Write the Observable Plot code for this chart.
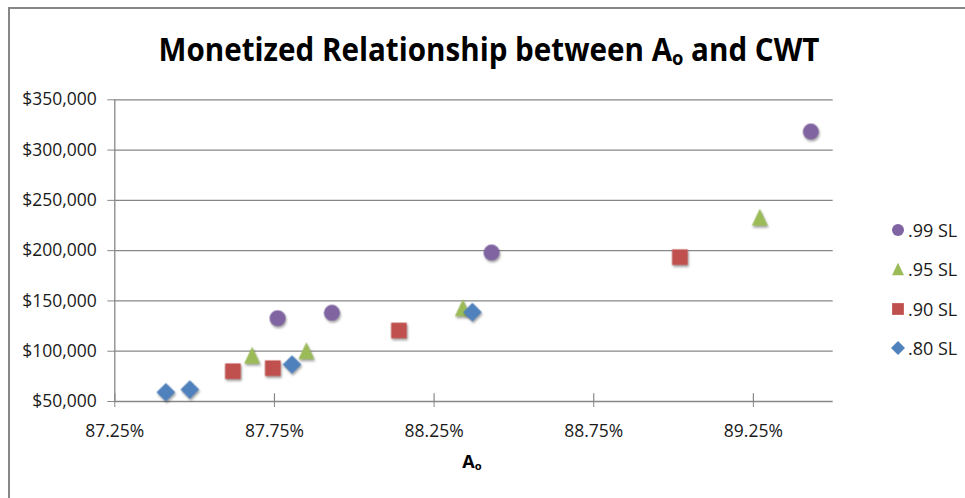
<!DOCTYPE html>
<html>
<head>
<meta charset="utf-8">
<script src="https://cdn.jsdelivr.net/npm/d3@7"></script>
<script src="https://cdn.jsdelivr.net/npm/@observablehq/plot@0.6"></script>
<style>
  html, body { margin: 0; padding: 0; background: #fff; }
  body { width: 965px; height: 498px; position: relative; overflow: hidden; font-family: "Open Sans", sans-serif; }
  #frame { position: absolute; left: 8px; top: 7px; width: 1000px; height: 600px; border-left: 2px solid #878787; border-top: 2px solid #878787; }
  #title { position: absolute; top: 29px; left: 488.7px; white-space: nowrap; font-weight: 700; font-size: 32.8px; line-height: 40px; color: #000; transform-origin: center; }
  #chart { position: absolute; left: 0; top: 80px; }
  #xlabel { position: absolute; top: 451px; left: 472px; transform: translateX(-50%); font-weight: 700; font-size: 18px; line-height: 20px; color: #000; white-space: nowrap; }
  .sub { font-size: 62%; vertical-align: -0.22em; }
  #legend { position: absolute; left: 890px; top: 210.5px; }
  .row { height: 39.3px; display: flex; align-items: center; font-size: 18px; color: #1a1a1a; }
  .row svg { width: 16px; height: 16px; margin-right: 2px; overflow: visible; }
</style>
</head>
<body>
<div id="frame"></div>
<div id="title">Monetized Relationship between A<span class="sub">o</span> and CWT</div>
<div id="chart"></div>
<div id="xlabel">A<span class="sub">o</span></div>
<div id="legend"></div>
<script>
// ---- data ----
const series = [".99 SL", ".95 SL", ".90 SL", ".80 SL"];
const seriesColors = ["#8064A2", "#9BBB59", "#C0504D", "#4F81BD"];
const ao99 = [87.76, 87.93, 88.43, 89.43];
const cwt99 = [132800, 138200, 198100, 318400];
const ao95 = [87.68, 87.85, 88.34, 89.27];
const cwt95 = [96000, 100500, 143300, 233200];
const ao90 = [87.62, 87.745, 88.14, 89.02];
const cwt90 = [80100, 83100, 120600, 193500];
const ao80 = [87.41, 87.485, 87.805, 88.37];
const cwt80 = [59200, 61900, 86800, 138800];
const xTicks = [87.25, 87.75, 88.25, 88.75, 89.25];
const yTicks = [50000, 100000, 150000, 200000, 250000, 300000, 350000];

// ---- symbols (Excel-like markers) ----
const rOf = size => Math.sqrt(size / Math.PI);
const symCircle = { draw(c, size) { const r = rOf(size); c.moveTo(r, 0); c.arc(0, 0, r, 0, 2 * Math.PI); c.closePath(); } };
const symTriangle = { draw(c, size) { const r = rOf(size); const w = r, h = r * 1.06; c.moveTo(0, -h); c.lineTo(w, h); c.lineTo(-w, h); c.closePath(); } };
const symSquare = { draw(c, size) { const r = rOf(size); const h = r * 0.98; c.moveTo(-h, -h); c.lineTo(h, -h); c.lineTo(h, h); c.lineTo(-h, h); c.closePath(); } };
const symDiamond = { draw(c, size) { const r = rOf(size); const d = r * 1.17; c.moveTo(0, -d); c.lineTo(d, 0); c.lineTo(0, d); c.lineTo(-d, 0); c.closePath(); } };
const seriesSymbols = [symCircle, symTriangle, symSquare, symDiamond];

const seriesX = [ao99, ao95, ao90, ao80];
const seriesY = [cwt99, cwt95, cwt90, cwt80];
const rows = [];
series.forEach((s, i) => seriesX[i].forEach((x, j) => rows.push({ series: s, ao: x, cwt: seriesY[i][j] })));

const W = 850, H = 400, mT = 19.3, mB = 79, mL = 114.3, mR = 17.3;
const plotH = H - mT - mB;
const grey = "#878787";
const fmtY = d => "$" + d3.format(",")(d);
const fmtX = d => d.toFixed(2) + "%";

const chart = Plot.plot({
  width: W, height: H,
  marginTop: mT, marginBottom: mB, marginLeft: mL, marginRight: mR,
  style: { fontFamily: "'Open Sans', sans-serif", fontSize: "17.5px", color: "#1a1a1a", background: "transparent" },
  x: { domain: [87.25, 89.5] },
  y: { domain: [50000, 350000] },
  marks: [
    Plot.gridY({ ticks: yTicks, stroke: grey, strokeOpacity: 1, strokeWidth: 1.3 }),
    Plot.ruleX([87.25], { stroke: grey, strokeWidth: 1.3 }),
    Plot.axisY({ ticks: yTicks, tickFormat: fmtY, tickSize: 7, tickPadding: 11, stroke: grey, fill: "#1a1a1a", label: null }),
    Plot.axisX({ ticks: xTicks, tickFormat: fmtX, tickSize: 6, tickPadding: 17, stroke: grey, fill: "#1a1a1a", label: null }),
    Plot.tickX(xTicks, { x: d => d, insetTop: plotH - 7.7, stroke: grey, strokeWidth: 1.2 }),
    ...series.map((s, i) => Plot.dot(rows.filter(d => d.series === s), {
      x: "ao", y: "cwt", r: 8, symbol: seriesSymbols[i], fill: seriesColors[i], stroke: "none"
    }))
  ]
});
document.getElementById("chart").appendChild(chart);
chart.querySelectorAll('g[aria-label="dot"]').forEach(g => {
  g.style.filter = "drop-shadow(1.5px 2px 1.2px rgba(0,0,0,0.35))";
});

// ---- legend ----
const legend = document.getElementById("legend");
series.forEach((s, i) => {
  const row = document.createElement("div");
  row.className = "row";
  const p = d3.path();
  seriesSymbols[i].draw(p, Math.PI * 36);
  row.innerHTML = `<svg viewBox="-8 -8 16 16"><path d="${p.toString()}" fill="${seriesColors[i]}"/></svg><span>${s}</span>`;
  legend.appendChild(row);
});

// ---- title width fit ----
const title = document.getElementById("title");
const tw = title.getBoundingClientRect().width;
title.style.transform = `translateX(-50%) scaleX(${661 / tw})`;
</script>
</body>
</html>
